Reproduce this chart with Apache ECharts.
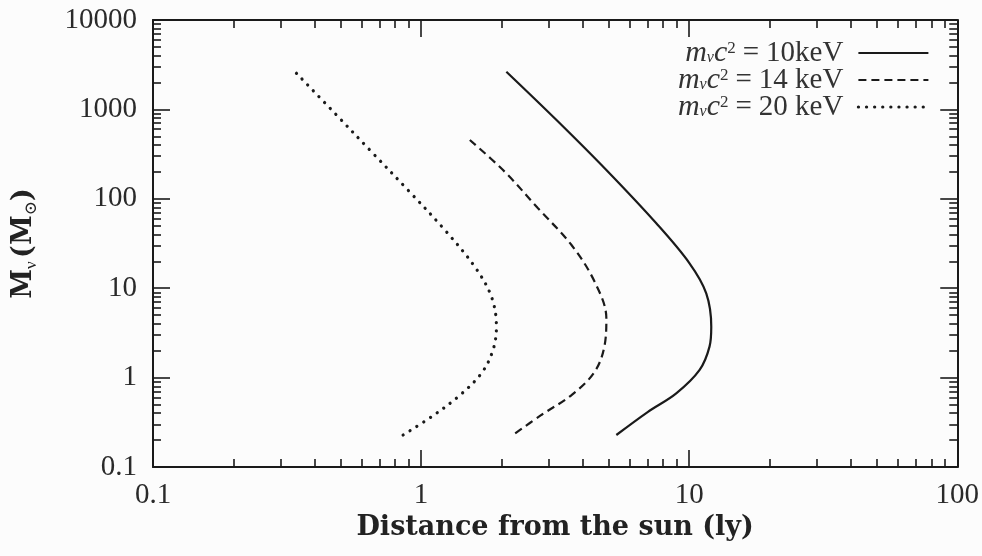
<!DOCTYPE html>
<html>
<head>
<meta charset="utf-8">
<script src="https://cdn.jsdelivr.net/npm/echarts@6/dist/echarts.min.js"></script>
<style>
  html, body { margin: 0; padding: 0; background: #fcfcfc; }
  #chart { width: 982px; height: 556px; }
</style>
</head>
<body>
<div id="chart"></div>
<script>
// Neutrino-ball mass versus distance from the sun, for three neutrino masses.
const massLabels = ['10keV', '14 keV', '20 keV'];

// [distance (ly), mass (solar masses)]
const curve10keV = [
  [2.08, 2640], [3.20, 761], [4.91, 210], [7.54, 53.2], [10.03, 19.0],
  [11.58, 8.77], [12.09, 3.71], [11.91, 2.22], [10.94, 1.22], [8.95, 0.667],
  [7.0, 0.412], [5.35, 0.228]
];
const curve14keV = [
  [1.52, 455], [2.05, 201], [2.73, 78.3], [3.64, 30.4], [4.44, 11.8],
  [4.91, 4.60], [4.84, 2.32], [4.44, 1.16], [3.64, 0.638], [2.81, 0.382],
  [2.20, 0.228]
];
const curve20keV = [
  [0.343, 2535], [0.477, 904], [0.653, 336], [0.894, 125], [1.226, 44.8],
  [1.585, 17.4], [1.83, 8.03], [1.91, 3.71], [1.855, 2.04], [1.68, 1.12],
  [1.374, 0.611], [1.094, 0.365], [0.857, 0.228]
];

// Axis ranges and tick positions
const xMin = 0.1, xMax = 100;
const yMin = 0.1, yMax = 10000;
const xMajor = [0.1, 1, 10, 100];
const yMajor = [0.1, 1, 10, 100, 1000, 10000];
const xMinor = [];
for (let d = 0.1; d < xMax - 1e-9; d *= 10) {
  for (let k = 2; k <= 9; k++) xMinor.push(+(d * k).toPrecision(3));
}
const yMinor = [];
for (let d = 0.1; d < yMax - 1e-9; d *= 10) {
  for (let k = 2; k <= 9; k++) yMinor.push(+(d * k).toPrecision(3));
}

const serif = '"Liberation Serif", "DejaVu Serif", serif';
const wideSerif = '"DejaVu Serif", "Liberation Serif", serif';
const ink = '#1a1a1a';

function xAxisDef(position, ticks, len, main) {
  return {
    type: 'log', logBase: 10, min: xMin, max: xMax, position: position,
    axisLine: { show: main, lineStyle: { color: ink, width: 2 } },
    axisTick: { show: true, inside: true, length: len, customValues: ticks,
                lineStyle: { color: ink, width: 1.6 } },
    axisLabel: { show: main && position === 'bottom', customValues: xMajor,
                 margin: 14, fontFamily: serif, fontSize: 29, color: '#2a2a2a',
                 formatter: v => String(+v.toPrecision(3)) },
    splitLine: { show: false }
  };
}
function yAxisDef(position, ticks, len, main) {
  return {
    type: 'log', logBase: 10, min: yMin, max: yMax, position: position,
    axisLine: { show: main, lineStyle: { color: ink, width: 2 } },
    axisTick: { show: true, inside: true, length: len, customValues: ticks,
                lineStyle: { color: ink, width: 1.6 } },
    axisLabel: { show: main && position === 'left', customValues: yMajor,
                 margin: 16, fontFamily: serif, fontSize: 29, color: '#2a2a2a',
                 formatter: v => String(+v.toPrecision(3)) },
    splitLine: { show: false }
  };
}

const xAxes = [
  xAxisDef('bottom', xMajor, 17, true),
  xAxisDef('bottom', xMinor, 8, false),
  xAxisDef('top', xMajor, 17, true),
  xAxisDef('top', xMinor, 8, false)
];
xAxes[0].name = 'Distance from the sun (ly)';
xAxes[0].nameLocation = 'middle';
xAxes[0].nameGap = 46;
xAxes[0].nameTextStyle = { fontFamily: wideSerif, fontSize: 27, fontWeight: 'bold', color: '#222' };

const yAxes = [
  yAxisDef('left', yMajor, 17, true),
  yAxisDef('left', yMinor, 8, false),
  yAxisDef('right', yMajor, 17, true),
  yAxisDef('right', yMinor, 8, false)
];
yAxes[0].name = '{b|M}{s|ν} {b|(M}{s|⊙}{b|)}';
yAxes[0].nameLocation = 'middle';
yAxes[0].nameGap = 113;
yAxes[0].nameTextStyle = {
  color: '#222',
  rich: {
    b: { fontFamily: wideSerif, fontSize: 27, fontWeight: 'bold', color: '#222', lineHeight: 32 },
    s: { fontFamily: serif, fontSize: 17, color: '#222', verticalAlign: 'bottom', lineHeight: 32 }
  }
};

const seriesNames = massLabels.map(m => 'mνc² = ' + m);
const curves = [curve10keV, curve14keV, curve20keV];
const dashes = ['solid', [8, 5], [0.1, 8]];
const widths = [2.2, 2.2, 3.2];
const caps = ['butt', 'butt', 'round'];

const chart = echarts.init(document.getElementById('chart'), null, { renderer: 'canvas' });
chart.setOption({
  backgroundColor: '#fcfcfc',
  animation: false,
  grid: { left: 153, right: 24, top: 20, bottom: 89, containLabel: false },
  xAxis: xAxes,
  yAxis: yAxes,
  legend: {
    orient: 'vertical', right: 52, top: 38, align: 'right', padding: 0,
    itemWidth: 70, itemHeight: 14, itemGap: -3,
    itemStyle: { opacity: 0 },
    data: seriesNames.map((n, i) => ({
      name: n,
      itemStyle: { opacity: 0 },
      lineStyle: { color: ink, width: widths[i], type: dashes[i], cap: caps[i] }
    })),
    formatter: name => {
      const rest = name.split('= ')[1];
      return '{i|m}{sub|ν}{i|c}{sup|2}{eq|=}{t|' + rest + '}';
    },
    textStyle: {
      padding: [0, 10, 0, 0],
      lineHeight: 26,
      rich: {
        i: { fontFamily: serif, fontStyle: 'italic', fontSize: 30, color: '#333', lineHeight: 26 },
        sub: { fontFamily: serif, fontSize: 16, fontStyle: 'italic', color: '#333', verticalAlign: 'bottom', lineHeight: 26 },
        sup: { fontFamily: serif, fontSize: 17, color: '#333', verticalAlign: 'top', lineHeight: 26 },
        eq: { fontFamily: serif, fontSize: 29, color: '#333', lineHeight: 26, padding: [0, 7, 0, 7] },
        t: { fontFamily: serif, fontSize: 29, color: '#333', lineHeight: 26 }
      }
    }
  },
  series: curves.map((c, i) => ({
    name: seriesNames[i],
    type: 'line',
    xAxisIndex: 0, yAxisIndex: 0,
    data: c,
    smooth: 0.35,
    symbol: 'none',
    color: ink,
    lineStyle: { color: ink, width: widths[i], type: dashes[i], cap: caps[i] }
  }))
});
</script>
</body>
</html>
